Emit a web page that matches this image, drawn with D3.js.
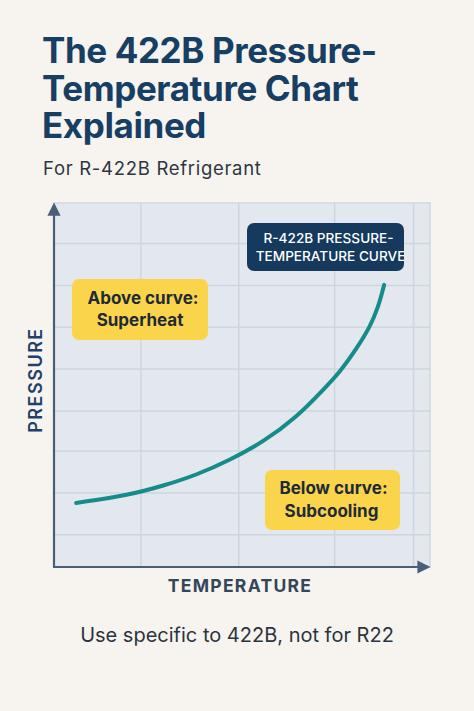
<!DOCTYPE html>
<html>
<head>
<meta charset="utf-8">
<script src="https://cdn.jsdelivr.net/npm/d3@7"></script>
<style>
  html, body { margin: 0; padding: 0; background: #f7f4ef; }
  svg { display: block; }
  text { font-family: Inter, "Noto Sans", sans-serif; }
</style>
</head>
<body>
<svg id="chart" width="474" height="711"></svg>
<script>
// curve (arbitrary units, 0..100 on both axes)
const temperature = [5.9, 20.2, 29.0, 38.0, 46.8, 55.6, 64.6, 71.5, 76.1, 80.6, 84.0, 86.2, 87.8];
const pressure    = [17.6, 19.8, 22.3, 25.3, 29.4, 34.3, 41.2, 48.6, 53.6, 60.2, 65.9, 71.2, 77.5];

// grid positions
const tempGrid     = [23, 49, 74.5, 95.5];
const pressureGrid = [9, 20.5, 32, 43, 54.5, 66, 77.5, 89];

const titleLines = ["The 422B Pressure-", "Temperature Chart", "Explained"];
const subtitle = "For R-422B Refrigerant";
const footnote = "Use specific to 422B, not for R22";
const curveLabel = ["R-422B PRESSURE-", "TEMPERATURE CURVE"];
const aboveLabel = ["Above curve:", "Superheat"];
const belowLabel = ["Below curve:", "Subcooling"];

const svg = d3.select("#chart");
const W = 474, H = 711;

svg.append("rect").attr("width", W).attr("height", H).attr("fill", "#f7f4ef");

const plot = {left: 54, right: 430, top: 203, bottom: 567};

const x = d3.scaleLinear().domain([0, 100]).range([plot.left, plot.right]);
const y = d3.scaleLinear().domain([0, 100]).range([plot.bottom, plot.top]);

// title block, one text with a tspan per line
svg.append("text")
    .attr("x", 42).attr("y", 63)
    .attr("fill", "#173e63")
    .attr("font-size", 35)
    .attr("font-weight", 700)
    .attr("letter-spacing", -0.4)
    .selectAll("tspan")
    .data(titleLines)
    .join("tspan")
    .attr("x", 42)
    .attr("dy", (d, i) => i ? 37.5 : 0)
    .text(d => d);

svg.append("text")
    .attr("x", 43).attr("y", 175)
    .attr("fill", "#2e3640")
    .attr("font-size", 18.5)
    .attr("letter-spacing", 0.7)
    .text(subtitle);

// plot background + grid
svg.append("rect")
    .attr("x", plot.left).attr("y", plot.top)
    .attr("width", plot.right - plot.left).attr("height", plot.bottom - plot.top)
    .attr("fill", "#e2e8ee")
    .attr("stroke", "#cfd8e1").attr("stroke-width", 1.5);

const gridY = svg.append("g")
    .attr("transform", `translate(${plot.left},0)`)
    .call(d3.axisLeft(y).tickValues(pressureGrid).tickSize(-(plot.right - plot.left)).tickFormat(""));
const gridX = svg.append("g")
    .attr("transform", `translate(0,${plot.bottom})`)
    .call(d3.axisBottom(x).tickValues(tempGrid).tickSize(-(plot.bottom - plot.top)).tickFormat(""));
[gridX, gridY].forEach(g => {
  g.select(".domain").remove();
  g.selectAll(".tick line").attr("stroke", "#cdd6df").attr("stroke-width", 1.5);
});

// axes with arrow heads
const defs = svg.append("defs");
defs.append("marker")
    .attr("id", "arrow")
    .attr("viewBox", "0 0 10 10")
    .attr("refX", 2).attr("refY", 5)
    .attr("markerWidth", 6).attr("markerHeight", 6)
    .attr("markerUnits", "strokeWidth")
    .attr("orient", "auto")
    .append("path")
    .attr("d", "M0,0L10,5L0,10Z")
    .attr("fill", "#4a5e77");

svg.append("line")
    .attr("x1", plot.left).attr("y1", plot.bottom)
    .attr("x2", plot.left).attr("y2", plot.top + 10)
    .attr("stroke", "#4a5e77").attr("stroke-width", 2.2)
    .attr("marker-end", "url(#arrow)");
svg.append("line")
    .attr("x1", plot.left - 1).attr("y1", plot.bottom)
    .attr("x2", plot.right - 10).attr("y2", plot.bottom)
    .attr("stroke", "#4a5e77").attr("stroke-width", 2.2)
    .attr("marker-end", "url(#arrow)");

// the curve (basis smooths out reading noise, still hits both ends)
const line = d3.line()
    .x(d => x(d[0]))
    .y(d => y(d[1]))
    .curve(d3.curveBasis);

svg.append("path")
    .datum(d3.zip(temperature, pressure))
    .attr("d", line)
    .attr("fill", "none")
    .attr("stroke", "#178a8a")
    .attr("stroke-width", 4)
    .attr("stroke-linecap", "round");

// axis titles
svg.append("text")
    .attr("x", (plot.left + plot.right) / 2 - 2).attr("y", 592)
    .attr("text-anchor", "middle")
    .attr("fill", "#34465a")
    .attr("font-size", 17.5)
    .attr("font-weight", 700)
    .attr("letter-spacing", 1.3)
    .text("TEMPERATURE");

svg.append("text")
    .attr("transform", "translate(42,380) rotate(-90)")
    .attr("text-anchor", "middle")
    .attr("fill", "#22416a")
    .attr("font-size", 18)
    .attr("font-weight", 600)
    .attr("letter-spacing", 1.5)
    .text("PRESSURE");

// annotation boxes
function labelBox(x0, y0, w, h, fill, color, lines, size, weight, baselines, shifts, clip) {
  const g = svg.append("g");
  g.append("rect")
      .attr("x", x0).attr("y", y0).attr("width", w).attr("height", h)
      .attr("rx", 7).attr("fill", fill);
  if (clip) {
    defs.append("clipPath").attr("id", clip)
        .append("rect").attr("x", x0).attr("y", y0).attr("width", w).attr("height", h);
  }
  g.append("g")
      .attr("clip-path", clip ? `url(#${clip})` : null)
      .selectAll("text")
      .data(lines)
      .join("text")
      .attr("x", (d, i) => x0 + w / 2 + shifts[i])
      .attr("y", (d, i) => baselines[i])
      .attr("text-anchor", "middle")
      .attr("fill", color)
      .attr("font-size", size)
      .attr("font-weight", weight)
      .text(d => d);
  return g;
}

labelBox(247, 223, 157, 48, "#153a5e", "#ffffff", curveLabel, 13.6, 500, [243, 261], [3, 5], "curveClip");
labelBox(72, 279, 136, 61, "#fad54c", "#1e2a36", aboveLabel, 17, 700, [304, 326], [3, 0]);
labelBox(265, 470, 135, 60, "#fad54c", "#1e2a36", belowLabel, 17, 700, [494, 517], [1, -1]);

// footnote
svg.append("text")
    .attr("x", 237).attr("y", 642)
    .attr("text-anchor", "middle")
    .attr("fill", "#2b3440")
    .attr("font-size", 20)
    .text(footnote);
</script>
</body>
</html>
